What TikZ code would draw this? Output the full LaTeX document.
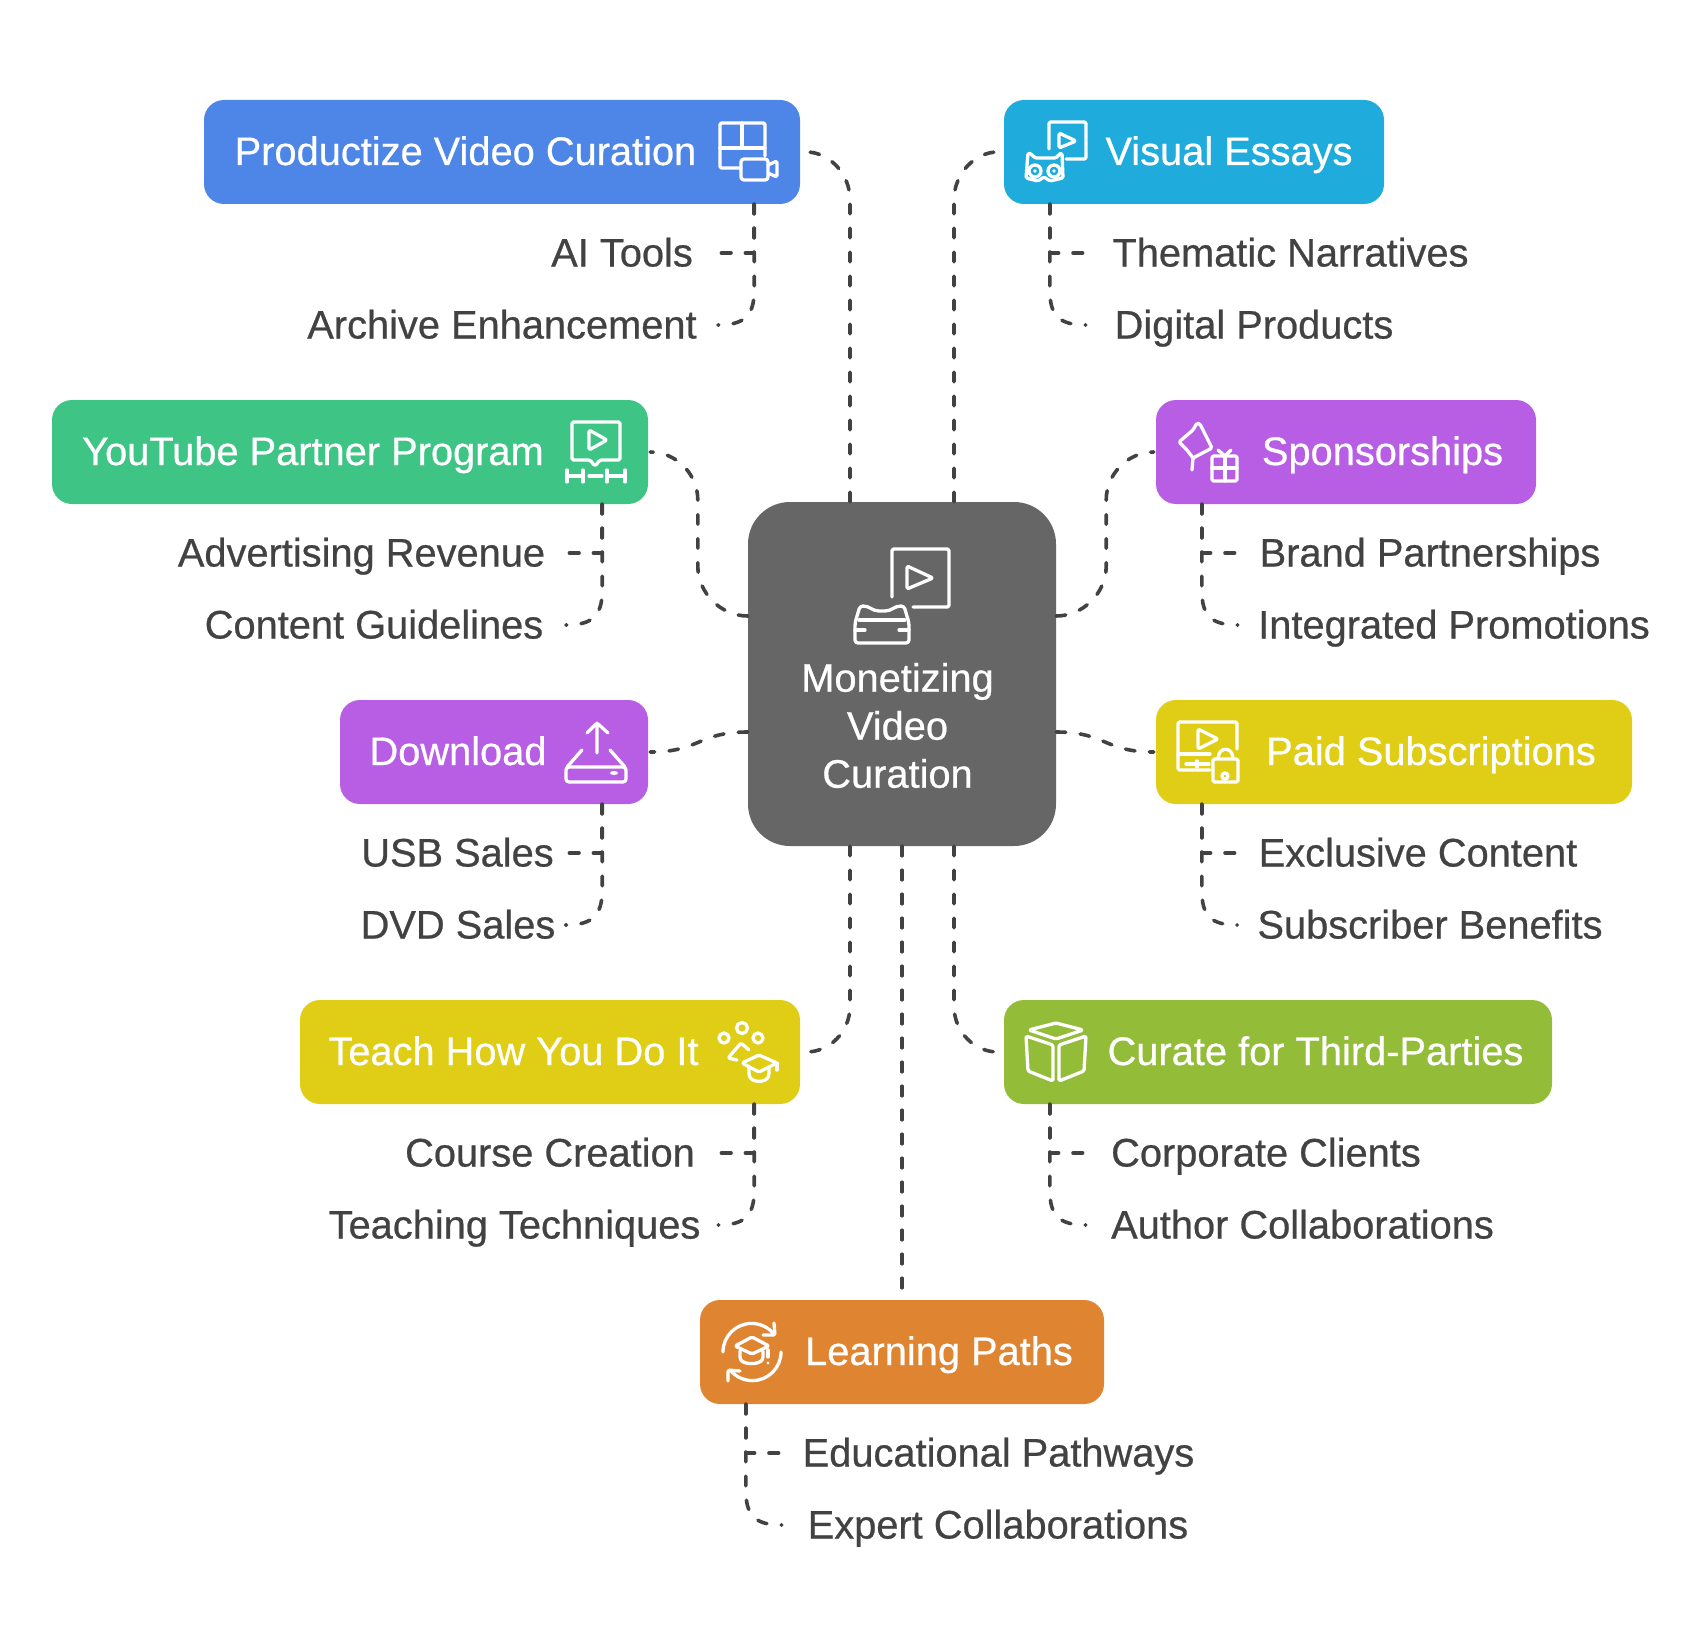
\documentclass[tikz,border=0pt]{standalone}
\usepackage{fontspec}
\setmainfont[FakeBold=0.6]{Liberation Sans}
\definecolor{hubgrey}{HTML}{666666}
\definecolor{inkgrey}{HTML}{424242}
\definecolor{topicblue}{HTML}{4E86E8}
\definecolor{topiccyan}{HTML}{1FABDC}
\definecolor{topicgreen}{HTML}{3EC585}
\definecolor{topicpurple}{HTML}{B85EE5}
\definecolor{topicyellow}{HTML}{E0CD15}
\definecolor{topiclime}{HTML}{93BD38}
\definecolor{topicorange}{HTML}{DF8431}
\tikzset{
  hub/.style={fill=hubgrey, rounded corners=42pt, minimum width=308pt, minimum height=344pt, inner sep=0pt},
  topic/.style={rounded corners=20pt, minimum height=104pt, inner sep=0pt},
  topictext/.style={text=white, inner sep=0pt, text height=26pt, text depth=0pt, font=\fontsize{39.8}{48}\selectfont},
  lbl/.style={text=inkgrey, inner sep=0pt, text height=27pt, text depth=0pt, font=\fontsize{39.8}{48}\selectfont},
  link/.style={draw=inkgrey, line width=3.6pt, line cap=round, dash pattern=on 9.6pt off 14.4pt},
  icon/.style={draw=white, line width=3.3pt, line cap=round, line join=round, rounded corners=1.5pt},
}
\begin{document}
\begin{tikzpicture}[x=1pt,y=-1pt]
  \useasboundingbox (0,0) rectangle (1708,1648);

  % Centre block
  \node[hub] (hub) at (902,674) {};
  \node[text=white, inner sep=0pt, align=center, font=\fontsize{39.8}{48}\selectfont] (hubtext) at (897.5,725.5) {Monetizing\\Video\\Curation};

  % Left topics
  \node[topic, fill=topicblue, minimum width=596pt] (prod) at (502,152) {};
  \node[topictext] (prodtext) at (465.5,152) {Productize Video Curation};
  \node[topic, fill=topicgreen, minimum width=596pt] (tube) at (350,452) {};
  \node[topictext] (tubetext) at (313,452) {YouTube Partner Program};
  \node[topic, fill=topicpurple, minimum width=308pt] (down) at (494,752) {};
  \node[topictext] (downtext) at (458,752) {Download};
  \node[topic, fill=topicyellow, minimum width=500pt] (teach) at (550,1052) {};
  \node[topictext] (teachtext) at (513.5,1052) {Teach How You Do It};

  % Right topics
  \node[topic, fill=topiccyan, minimum width=380pt] (vis) at (1194,152) {};
  \node[topictext] (vistext) at (1229,152) {Visual Essays};
  \node[topic, fill=topicpurple, minimum width=380pt] (spon) at (1346,452) {};
  \node[topictext] (spontext) at (1382.5,452) {Sponsorships};
  \node[topic, fill=topicyellow, minimum width=476pt] (paid) at (1394,752) {};
  \node[topictext] (paidtext) at (1431,752) {Paid Subscriptions};
  \node[topic, fill=topiclime, minimum width=548pt] (third) at (1278,1052) {};
  \node[topictext] (thirdtext) at (1315.5,1052) {Curate for Third-Parties};

  % Bottom topic
  \node[topic, fill=topicorange, minimum width=404pt] (learn) at (902,1352) {};
  \node[topictext] (learntext) at (939,1352) {Learning Paths};

  % Left labels
  \node[lbl, minimum width=144.5pt] (aitools) at (622,253) {AI Tools};
  \node[lbl, minimum width=384.5pt] (archive) at (502,325) {Archive Enhancement};
  \node[lbl, minimum width=361pt] (advert) at (361.5,553) {Advertising Revenue};
  \node[lbl, minimum width=335pt] (guide) at (374,625) {Content Guidelines};
  \node[lbl, minimum width=181pt] (usb) at (457.5,853) {USB Sales};
  \node[lbl, minimum width=184pt] (dvd) at (458,925) {DVD Sales};
  \node[lbl, minimum width=284pt] (course) at (550,1153) {Course Creation};
  \node[lbl, minimum width=375pt] (teaching) at (514.5,1225) {Teaching Techniques};

  % Right labels
  \node[lbl, minimum width=359pt] (thematic) at (1290.5,253) {Thematic Narratives};
  \node[lbl, minimum width=282pt] (digital) at (1254,325) {Digital Products};
  \node[lbl, minimum width=340pt] (brand) at (1430,553) {Brand Partnerships};
  \node[lbl, minimum width=396pt] (integ) at (1454,625) {Integrated Promotions};
  \node[lbl, minimum width=315pt] (excl) at (1418,853) {Exclusive Content};
  \node[lbl, minimum width=345pt] (subs) at (1430,925) {Subscriber Benefits};
  \node[lbl, minimum width=308pt] (corp) at (1266,1153) {Corporate Clients};
  \node[lbl, minimum width=387pt] (author) at (1302.5,1225) {Author Collaborations};
  \node[lbl, minimum width=391pt] (path) at (998.5,1453) {Educational Pathways};
  \node[lbl, minimum width=382pt] (expert) at (998,1525) {Expert Collaborations};

  % Hub to topics
  \draw[link] ([xshift=-52pt]hub.north) -- ++(0,-302) .. controls +(0,-26) and +(23,0) .. ([xshift=6pt]prod.east);
  \draw[link] ([xshift=52pt]hub.north) -- ++(0,-302) .. controls +(0,-26) and +(-23,0) .. ([xshift=-6pt]vis.west);
  \draw[link] ([yshift=58pt]hub.west) .. controls +(-27,0) and +(0,27) .. ++(-50,-50) -- ++(0,-66) .. controls +(0,-26) and +(26,0) .. ([xshift=2pt]tube.east);
  \draw[link] ([yshift=58pt]hub.east) .. controls +(27,0) and +(0,27) .. ++(50,-50) -- ++(0,-66) .. controls +(0,-26) and +(-26,0) .. ([xshift=-2pt]spon.west);
  \draw[link] ([yshift=-58pt]hub.west) .. controls +(-50,0) and +(50,0) .. ([xshift=2pt]down.east);
  \draw[link] ([yshift=-58pt]hub.east) .. controls +(50,0) and +(-50,0) .. ([xshift=-2pt]paid.west);
  \draw[link] ([xshift=-52pt]hub.south) -- ++(0,160) .. controls +(0,26) and +(23,0) .. ([xshift=6pt]teach.east);
  \draw[link] ([xshift=52pt]hub.south) -- ++(0,160) .. controls +(0,26) and +(-23,0) .. ([xshift=-6pt]third.west);
  \draw[link] (hub.south) -- ([yshift=6pt]learn.north);

  % Topics to labels
  \draw[link] ([xshift=-46pt]prod.south east) |- ([xshift=23.5pt]aitools.east);
  \draw[link] ([xshift=-46pt]prod.south east) -- ++(0,86) .. controls +(0,26) and +(26,0) .. ([xshift=21pt]archive.east);
  \draw[link] ([xshift=-46pt]tube.south east) |- ([xshift=21pt]advert.east);
  \draw[link] ([xshift=-46pt]tube.south east) -- ++(0,86) .. controls +(0,26) and +(26,0) .. ([xshift=22.5pt]guide.east);
  \draw[link] ([xshift=-46pt]down.south east) |- ([xshift=12.5pt]usb.east);
  \draw[link] ([xshift=-46pt]down.south east) -- ++(0,86) .. controls +(0,26) and +(26,0) .. ([xshift=10pt]dvd.east);
  \draw[link] ([xshift=-46pt]teach.south east) |- ([xshift=24pt]course.east);
  \draw[link] ([xshift=-46pt]teach.south east) -- ++(0,86) .. controls +(0,26) and +(26,0) .. ([xshift=16pt]teaching.east);
  \draw[link] ([xshift=46pt]vis.south west) |- ([xshift=-25pt]thematic.west);
  \draw[link] ([xshift=46pt]vis.south west) -- ++(0,86) .. controls +(0,26) and +(-26,0) .. ([xshift=-27pt]digital.west);
  \draw[link] ([xshift=46pt]spon.south west) |- ([xshift=-22pt]brand.west);
  \draw[link] ([xshift=46pt]spon.south west) -- ++(0,86) .. controls +(0,26) and +(-26,0) .. ([xshift=-18pt]integ.west);
  \draw[link] ([xshift=46pt]paid.south west) |- ([xshift=-22pt]excl.west);
  \draw[link] ([xshift=46pt]paid.south west) -- ++(0,86) .. controls +(0,26) and +(-26,0) .. ([xshift=-20pt]subs.west);
  \draw[link] ([xshift=46pt]third.south west) |- ([xshift=-26pt]corp.west);
  \draw[link] ([xshift=46pt]third.south west) -- ++(0,86) .. controls +(0,26) and +(-26,0) .. ([xshift=-23pt]author.west);
  \draw[link] ([xshift=46pt]learn.south west) |- ([xshift=-21pt]path.west);
  \draw[link] ([xshift=46pt]learn.south west) -- ++(0,86) .. controls +(0,26) and +(-26,0) .. ([xshift=-25pt]expert.west);

  % Hub icon
  \draw[icon] (892,597) -- (892,549) -- (949,549) -- (949,607) -- (913,607);
  \draw[icon] (907,566) -- (907,589) -- (933,578) -- cycle;
  \draw[icon, rounded corners=3pt] (860,606) .. controls (870,606) and (872,611) .. (882,611) .. controls (892,611) and (894,606) .. (904,606) -- (909,623) -- (909,643) -- (855,643) -- (855,623) -- cycle;
  \draw[icon] (859,620) -- (905,620);
  \draw[icon] (855,630) -- (865,630) (899,630) -- (909,630);

  % Productize icon
  \draw[icon] (741,168) -- (720,168) -- (720,123) -- (765,123) -- (765,156);
  \draw[icon] (720,148) -- (765,148) (742,123) -- (742,148);
  \draw[icon, rounded corners=3pt] (741,159) rectangle (768,180);
  \draw[icon] (768,165) -- (777,161) -- (777,177) -- (768,173);

  % YouTube icon
  \draw[icon] (590,460) -- (572,460) -- (572,422) -- (620,422) -- (620,460) -- (600,460) -- (595,466) -- cycle;
  \draw[icon] (589,430) -- (589,450) -- (607,440) -- cycle;
  \draw[icon] (567,470) -- (567,482) (583,470) -- (583,482) (607,470) -- (607,482) (625,470) -- (625,482);
  \draw[icon] (567,476) -- (583,476) (589,476) -- (602,476) (607,476) -- (625,476);

  % Download icon
  \draw[icon] (597,753) -- (597,723) (587,733) -- (597,723) -- (608,733);
  \draw[icon, rounded corners=3pt] (566,767) rectangle (626,782);
  \draw[icon] (582,750) -- (567,767) (610,750) -- (625,767);
  \fill[white] (614,773) ellipse (4pt and 2pt);

  % Teach icon
  \draw[icon] (724,1038) circle (5pt) (742,1028) circle (5.5pt) (758,1038) circle (5pt);
  \draw[icon] (749,1050) -- (741,1043) -- (728,1058) -- (737,1060);
  \draw[icon] (742,1063) -- (759,1055) -- (777,1063) -- (759,1072) -- cycle;
  \draw[icon] (777,1063) -- (777,1070);
  \draw[icon] (749,1068) -- (749,1075) .. controls (752,1083) and (766,1083) .. (769,1075) -- (769,1068);

  % Visual Essays icon
  \draw[icon] (1049,149) -- (1049,122) -- (1086,122) -- (1086,159) -- (1066,159);
  \draw[icon] (1059,133) -- (1059,148) -- (1076,141) -- cycle;
  \draw[icon] (1028,153) .. controls (1032,154) and (1034,158) .. (1038,158) -- (1053,158) .. controls (1057,158) and (1059,154) .. (1062,153) -- (1063,178) -- (1050,181) -- (1044,177) -- (1038,181) -- (1026,178) -- cycle;
  \draw[icon] (1035,171) circle (6pt) (1054,171) circle (6pt);
  \fill[white] (1035,171) circle (1.8pt) (1054,171) circle (1.8pt);

  % Sponsorships icon
  \draw[icon] (1192,470) -- (1193,458) -- (1212,448) -- (1200,424) -- (1197,423) -- (1193,430) -- (1179,442) -- (1187,450) -- (1193,458);
  \draw[icon] (1212,456) rectangle (1237,481);
  \draw[icon] (1225,456) -- (1225,481) (1212,468) -- (1237,468);
  \draw[icon] (1218,450) -- (1225,456) -- (1231,450);

  % Paid Subscriptions icon
  \draw[icon] (1237,749) -- (1237,722) -- (1178,722) -- (1178,770) -- (1210,770);
  \draw[icon] (1178,754) -- (1210,754);
  \draw[icon] (1186,764) -- (1209,764) (1197,761) -- (1197,767);
  \draw[icon] (1198,729) -- (1198,749) -- (1218,739) -- cycle;
  \draw[icon] (1213,759) rectangle (1238,782);
  \draw[icon] (1218,759) .. controls (1218,746) and (1233,746) .. (1233,759);
  \draw[icon] (1225,776) circle (3pt);

  % Curate icon
  \draw[icon] (1029,1030) -- (1056,1023) -- (1083,1030) -- (1056,1039) -- cycle;
  \draw[icon] (1026,1036) -- (1053,1045) -- (1053,1081) -- (1028,1071) -- cycle;
  \draw[icon] (1059,1045) -- (1086,1036) -- (1084,1071) -- (1059,1081) -- cycle;

  % Learning Paths icon
  \draw[icon] (723,1352) arc[start angle=180, end angle=38, radius=28.6pt];
  \draw[icon] (774,1323) -- (775,1335) -- (763,1335);
  \draw[icon] (781,1352) arc[start angle=0, end angle=-140, radius=28.6pt];
  \draw[icon] (728,1381) -- (728,1370) -- (740,1371);
  \draw[icon] (735,1346) -- (752,1337) -- (769,1346) -- (752,1354) -- cycle;
  \draw[icon] (740,1351) -- (740,1358) .. controls (743,1365) and (760,1365) .. (763,1358) -- (763,1351);
  \draw[icon] (768,1350) -- (768,1357);
  \fill[white] (768,1363) circle (1.6pt);
\end{tikzpicture}
\end{document}
